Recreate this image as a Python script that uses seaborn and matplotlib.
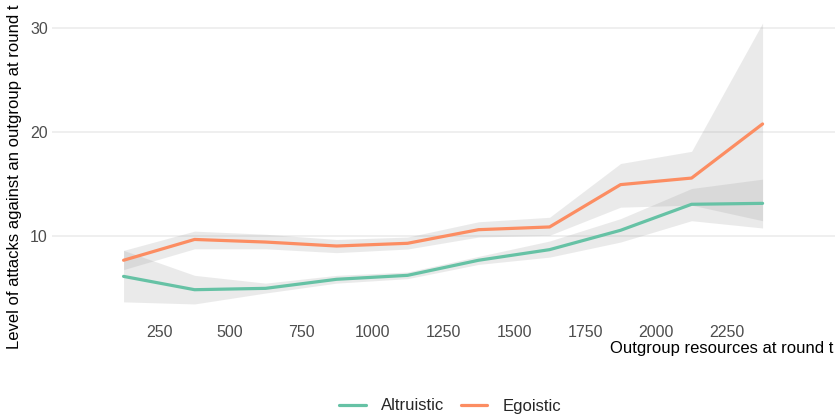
import matplotlib
matplotlib.use("Agg")
import matplotlib.pyplot as plt
import seaborn as sns
import pandas as pd
from matplotlib.lines import Line2D

resources = [125, 375, 625, 875, 1125, 1375, 1625, 1875, 2125, 2375]
altruistic = [6.15, 4.87, 5.0, 5.87, 6.25, 7.7, 8.72, 10.58, 13.08, 13.17]
altruistic_lo = [3.7, 3.5, 4.55, 5.5, 5.93, 7.3, 8.0, 9.45, 11.5, 10.8]
altruistic_hi = [8.65, 6.25, 5.5, 6.25, 6.57, 8.07, 9.55, 11.7, 14.6, 15.5]
egoistic = [7.7, 9.7, 9.45, 9.07, 9.33, 10.64, 10.9, 14.97, 15.6, 20.8]
egoistic_lo = [6.8, 8.8, 8.8, 8.43, 8.78, 9.93, 10.1, 12.8, 13.0, 11.5]
egoistic_hi = [8.65, 10.5, 10.2, 9.7, 9.93, 11.4, 11.83, 17.0, 18.17, 30.5]
groups = ["Altruistic", "Egoistic"]
palette = {"Altruistic": "#66C2A5", "Egoistic": "#FC8D62"}

df = pd.DataFrame({
    "resources": resources * 2,
    "attacks": altruistic + egoistic,
    "group": ["Altruistic"] * len(resources) + ["Egoistic"] * len(resources),
})

sns.set_theme(style="white")
plt.rcParams["font.family"] = ["Liberation Sans", "DejaVu Sans"]

fig = plt.figure(figsize=(8.38, 4.18), dpi=100)
ax = fig.add_axes([52 / 838, 1 - 318 / 418, (835 - 52) / 838, (318 - 9) / 418])

for lo, hi in [(altruistic_lo, altruistic_hi), (egoistic_lo, egoistic_hi)]:
    ax.fill_between(resources, lo, hi, color="#999999", alpha=0.2, linewidth=0, zorder=1)

sns.lineplot(data=df, x="resources", y="attacks", hue="group", hue_order=groups,
             palette=palette, linewidth=2.3, ax=ax, zorder=3, legend=False)

ax.set_xlim(-127, 2630)
ax.set_ylim(2.15, 31.85)
ax.set_xticks([250, 500, 750, 1000, 1250, 1500, 1750, 2000, 2250])
ax.set_yticks([10, 20, 30])
ax.grid(axis="y", color="#EBEBEB", linewidth=1.1)
ax.grid(axis="x", visible=False)
ax.set_axisbelow(True)
for s in ax.spines.values():
    s.set_visible(False)
ax.tick_params(axis="both", length=0, labelsize=11.5, colors="#4D4D4D", pad=3)
ax.tick_params(axis="x", pad=5)
ax.set_xlabel("")
ax.set_ylabel("")

fig.text(833 / 838, 1 - 349 / 418, "Outgroup resources at round t", ha="right", va="center",
         fontsize=12, color="black")
fig.text(15 / 838, 1 - 177 / 418, "Level of attacks against an outgroup at round t",
         rotation=90, ha="center", va="center", fontsize=12, color="black")

handles = [Line2D([], [], color=palette[g], linewidth=2.3) for g in groups]
fig.legend(handles, groups, loc="center", bbox_to_anchor=(450 / 838, 1 - 406 / 418),
           ncol=2, frameon=False, fontsize=12, handlelength=1.6, columnspacing=1.0,
           handletextpad=0.9)

fig.savefig("out.png", dpi=100)
